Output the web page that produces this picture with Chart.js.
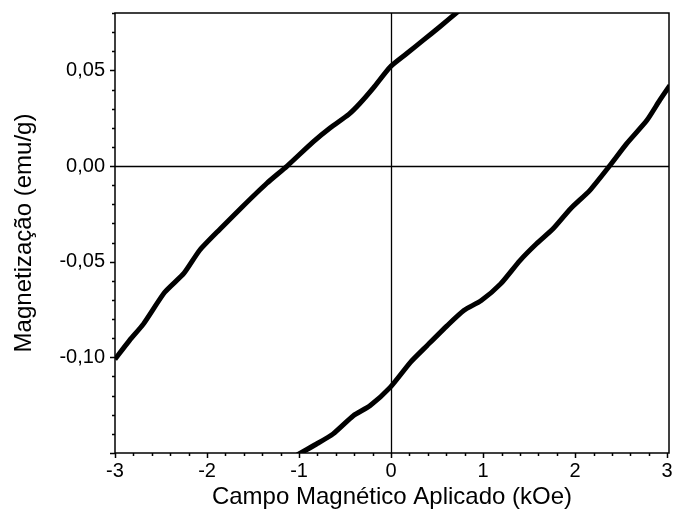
<!DOCTYPE html>
<html>
<head>
<meta charset="utf-8">
<script src="https://cdn.jsdelivr.net/npm/chart.js@4.4.1/dist/chart.umd.min.js"></script>
<style>
    html, body { margin: 0; padding: 0; background: #fff; overflow: hidden; }
    #wrap { width: 673px; height: 525px; }
    canvas { display: block; }
</style>
</head>
<body>
<div id="wrap"><canvas id="loopChart"></canvas></div>
<script>
// Hysteresis loop data
const upperField = [-3.00, -2.84, -2.69, -2.46, -2.25, -2.08, -1.86, -1.61, -1.35, -1.13,
    -0.85, -0.66, -0.46, -0.34, -0.19, -0.01, 0.17, 0.35, 0.53, 0.72, 0.78];
const upperMag = [-0.101, -0.091, -0.0825, -0.066, -0.056, -0.044, -0.033, -0.021, -0.009, 0.000,
    0.0125, 0.020, 0.027, 0.0327, 0.041, 0.0518, 0.0588, 0.0658, 0.0728, 0.0805, 0.083];

const lowerField = [-1.02, -0.81, -0.63, -0.41, -0.23, -0.01, 0.21, 0.39, 0.61, 0.79, 0.98,
    1.19, 1.40, 1.58, 1.76, 1.95, 2.16, 2.38, 2.56, 2.78, 2.92, 3.03];
const lowerMag = [-0.151, -0.1453, -0.140, -0.1305, -0.1253, -0.1157, -0.1026, -0.0939, -0.0834, -0.0755, -0.0703,
    -0.0616, -0.0494, -0.0406, -0.0328, -0.0223, -0.0127, 0.0004, 0.0117, 0.0239, 0.0344, 0.0422];

// Tick labels
const xTicks = [-3, -2, -1, 0, 1, 2, 3];
const yTicks = [-0.10, -0.05, 0.00, 0.05];

const X_MIN = -3, X_MAX = 3.02;
const Y_MIN = -0.15, Y_MAX = 0.08;

function toPoints(xs, ys) {
    return xs.map((v, i) => ({ x: v, y: ys[i] }));
}

// minor tick positions
const xMinor = [];
for (let i = -15; i <= 15; i++) xMinor.push(i / 5);
const yMinor = [];
for (let i = -15; i <= 8; i++) yMinor.push(i / 100);

// Frame, zero lines and tick marks
const frameTicks = {
    id: 'frameTicks',
    beforeDatasetsDraw(chart) {
        const { ctx, chartArea: a, scales: { x, y } } = chart;
        ctx.save();
        ctx.strokeStyle = '#000';
        ctx.lineWidth = 1.3;
        const x0 = Math.round(x.getPixelForValue(0)) + 0.5;
        const y0 = Math.round(y.getPixelForValue(0)) + 0.5;
        ctx.beginPath();
        ctx.moveTo(x0, a.top);
        ctx.lineTo(x0, a.bottom);
        ctx.moveTo(a.left, y0);
        ctx.lineTo(a.right, y0);
        ctx.stroke();
        ctx.restore();
    },
    afterDraw(chart) {
        const { ctx, chartArea: a, scales: { x, y } } = chart;
        ctx.save();
        ctx.strokeStyle = '#000';
        ctx.lineWidth = 1.5;
        ctx.strokeRect(a.left, a.top, a.right - a.left, a.bottom - a.top);

        ctx.beginPath();
        xMinor.forEach(v => {
            const major = Math.abs(v - Math.round(v)) < 1e-6;
            const px = Math.round(x.getPixelForValue(v)) + 0.5;
            ctx.moveTo(px, a.bottom);
            ctx.lineTo(px, a.bottom + (major ? 5 : 3));
        });
        yMinor.forEach(v => {
            const major = Math.abs(v * 20 - Math.round(v * 20)) < 1e-6;
            const py = Math.round(y.getPixelForValue(v)) + 0.5;
            ctx.moveTo(a.left, py);
            ctx.lineTo(a.left - (major ? 5 : 3), py);
        });
        ctx.stroke();
        ctx.restore();
    }
};

const fontFamily = '"Liberation Sans", Arial, sans-serif';

new Chart(document.getElementById('loopChart'), {
    type: 'line',
    data: {
        datasets: [
            {
                label: 'upper',
                data: toPoints(upperField, upperMag),
                borderColor: '#000',
                borderWidth: 5,
                pointRadius: 0,
                tension: 0.2,
                fill: false
            },
            {
                label: 'lower',
                data: toPoints(lowerField, lowerMag),
                borderColor: '#000',
                borderWidth: 5,
                pointRadius: 0,
                tension: 0.2,
                fill: false
            }
        ]
    },
    options: {
        responsive: true,
        maintainAspectRatio: false,
        animation: false,
        layout: { padding: { top: 13, right: 4, left: 0, bottom: 0 } },
        plugins: {
            legend: { display: false },
            tooltip: { enabled: false }
        },
        scales: {
            x: {
                type: 'linear',
                min: X_MIN,
                max: X_MAX,
                grid: { display: false, drawTicks: false },
                border: { display: false },
                afterBuildTicks: scale => { scale.ticks = xTicks.map(v => ({ value: v })); },
                afterFit: scale => {
                    scale.height = 72;
                    scale.paddingLeft = 0;
                    scale.paddingRight = 0;
                },
                ticks: {
                    color: '#000',
                    padding: 6,
                    maxRotation: 0,
                    font: { family: fontFamily, size: 20 },
                    callback: v => String(v)
                },
                title: {
                    display: true,
                    text: 'Campo Magnético Aplicado (kOe)',
                    color: '#000',
                    padding: { top: 0, bottom: 13 },
                    font: { family: fontFamily, size: 24 }
                }
            },
            y: {
                type: 'linear',
                min: Y_MIN,
                max: Y_MAX,
                grid: { display: false, drawTicks: false },
                border: { display: false },
                afterBuildTicks: scale => { scale.ticks = yTicks.map(v => ({ value: v })); },
                afterFit: scale => {
                    scale.width = 115;
                    scale.paddingTop = 0;
                    scale.paddingBottom = 0;
                },
                ticks: {
                    color: '#000',
                    padding: 10,
                    font: { family: fontFamily, size: 20 },
                    callback: v => v.toFixed(2).replace('.', ',')
                },
                title: {
                    display: true,
                    text: 'Magnetização (emu/g)',
                    color: '#000',
                    padding: { top: 10, bottom: 0 },
                    font: { family: fontFamily, size: 24 }
                }
            }
        }
    },
    plugins: [frameTicks]
});
</script>
</body>
</html>
